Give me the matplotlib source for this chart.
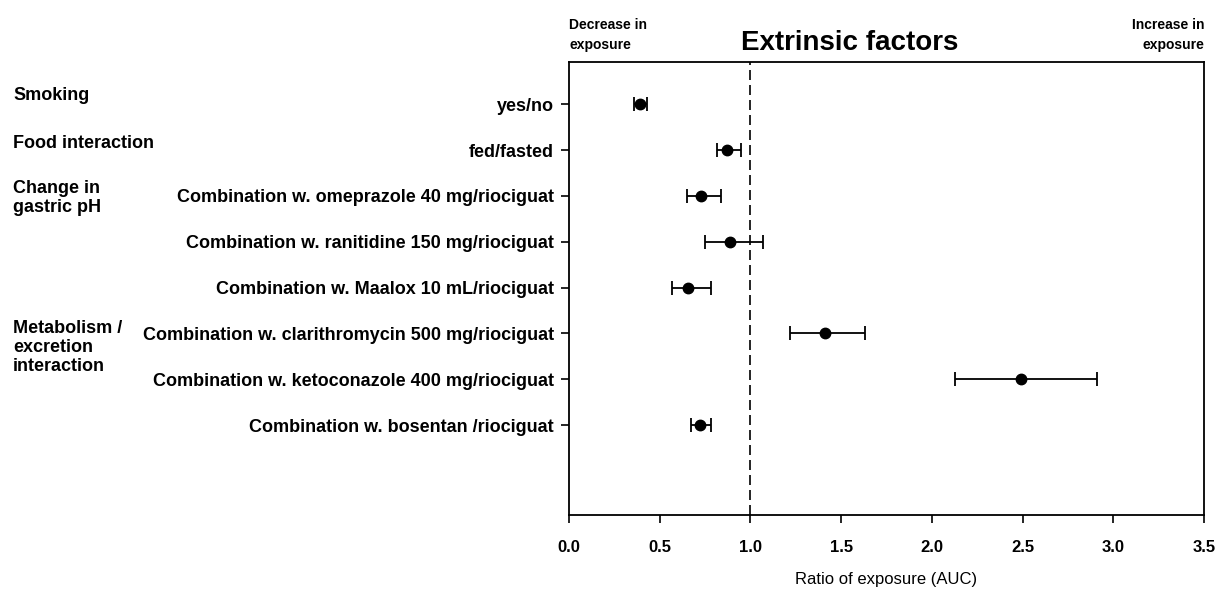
import matplotlib.pyplot as plt
from matplotlib.transforms import blended_transform_factory

plt.rcParams['font.family'] = ['Liberation Sans', 'DejaVu Sans']

labels = ['yes/no',
          'fed/fasted',
          'Combination w. omeprazole 40 mg/riociguat',
          'Combination w. ranitidine 150 mg/riociguat',
          'Combination w. Maalox 10 mL/riociguat',
          'Combination w. clarithromycin 500 mg/riociguat',
          'Combination w. ketoconazole 400 mg/riociguat',
          'Combination w. bosentan /riociguat']
ratio = [0.39, 0.87, 0.73, 0.885, 0.655, 1.41, 2.49, 0.72]
ci_low = [0.36, 0.815, 0.65, 0.75, 0.57, 1.22, 2.13, 0.675]
ci_high = [0.43, 0.95, 0.84, 1.07, 0.78, 1.63, 2.91, 0.78]

groups = ['Smoking', 'Food interaction', 'Change in\ngastric pH',
          'Metabolism /\nexcretion\ninteraction']
group_rows = [0.63, 1.68, 2.65, 5.71]

rows = list(range(1, len(labels) + 1))
err = [[r - lo for r, lo in zip(ratio, ci_low)],
       [hi - r for r, hi in zip(ratio, ci_high)]]

fig = plt.figure(figsize=(12.16, 5.89), dpi=100)
ax = fig.add_axes([569 / 1216, 1 - 515 / 589, (1204 - 569) / 1216, (515 - 62) / 589])

ax.errorbar(ratio, rows, xerr=err, fmt='o', color='black', ms=7.5,
            elinewidth=1.3, capsize=4.7, capthick=1.3)
ax.axvline(1.0, color='black', lw=1.2, ls=(0, (6, 3)))

ax.set_xlim(0, 3.5)
ax.set_ylim(9.96, 0.08)
ax.set_xticks([0, 0.5, 1, 1.5, 2, 2.5, 3, 3.5])
ax.set_xticklabels(['0.0', '0.5', '1.0', '1.5', '2.0', '2.5', '3.0', '3.5'],
                   fontweight='bold', fontsize=12)
ax.set_yticks(rows)
ax.set_yticklabels(labels, fontsize=13, fontweight='bold')
ax.tick_params(axis='both', direction='out', length=6, width=1.2)
ax.tick_params(axis='x', pad=12)
ax.tick_params(axis='y', pad=5)
for s in ax.spines.values():
    s.set_linewidth(1.3)

ax.set_xlabel('Ratio of exposure (AUC)', fontsize=12, labelpad=12.5)

# group headings: figure x, data y
grp_tf = blended_transform_factory(fig.transFigure, ax.transData)
for g, r in zip(groups, group_rows):
    ax.text(13 / 1216, r, g, transform=grp_tf, fontsize=13,
            fontweight='bold', va='top', ha='left', linespacing=1.15)

fig.text(569 / 1216, 1 - 18 / 589, 'Decrease in\nexposure', fontsize=10,
         fontweight='bold', ha='left', va='top', linespacing=1.5)
fig.text(1204 / 1216, 1 - 18 / 589, 'Increase in\nexposure', fontsize=10,
         fontweight='bold', ha='right', va='top', linespacing=1.5)
fig.text(850 / 1216, 1 - 43 / 589, 'Extrinsic factors', fontsize=20,
         fontweight='bold', ha='center', va='center')

fig.savefig('out.png', dpi=100)
